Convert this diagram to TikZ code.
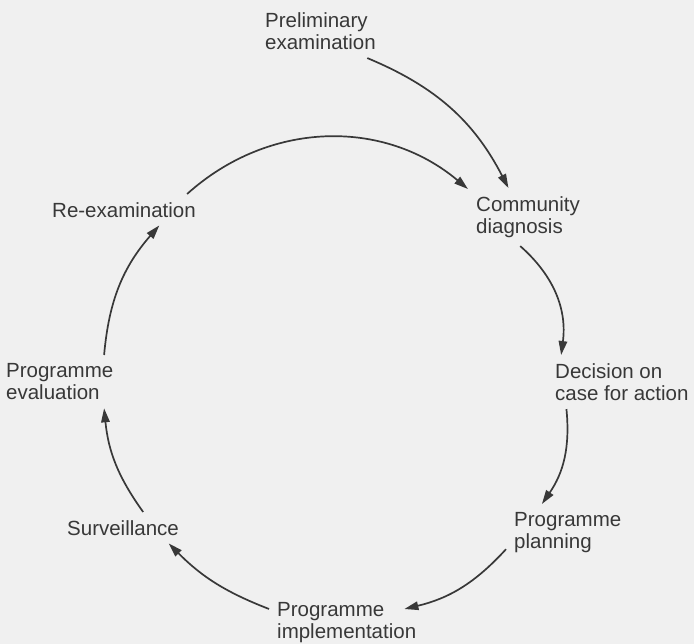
\documentclass[tikz,border=0pt]{standalone}
\usepackage{fontspec}
\setmainfont{Liberation Sans}
\usetikzlibrary{arrows.meta,calc}
\begin{document}
\begin{tikzpicture}[x=1pt,y=-1pt,
    every node/.style={anchor=north west,align=left,inner sep=8pt,
      text=black!78,font=\fontsize{20.5}{22.6}\selectfont},
    cycle/.style={-{Triangle[length=14pt,width=8.5pt]},line width=1.7pt,draw=black!78}]
  \path[use as bounding box,fill=black!6] (0,0) rectangle (694,644);
  \draw
    (257,4) node (prelim){Preliminary\\examination}
    (468,188) node (diag){Community\\diagnosis}
    (547,355) node (decide){Decision on\\case for action}
    (506,504) node (plan){Programme\\planning}
    (269,594) node (impl){Programme\\implementation}
    (59,512) node (surv){Surveillance}
    (-2,355) node (eval){Programme\\evaluation}
    (44,194) node (reexam){Re-examination};
  \begin{scope}[cycle]
    \draw (prelim.-30) to[bend left=20] (diag.124);
    \draw (reexam.14) to[bend left=41] (diag.155);
    \draw (diag.-105) to[bend left=28] (decide.156);
    \draw (decide.206) to[bend left=20] (plan.132);
    \draw (plan.195) to[bend left=17] ($(impl.north east)+(-20,15)$);
    \draw (impl.170) to[bend left=12] (surv.-19);
    \draw (surv.38) to[bend left=15] (eval.-31);
    \draw (eval.31) to[bend left=18] (reexam.-24);
  \end{scope}
\end{tikzpicture}
\end{document}
